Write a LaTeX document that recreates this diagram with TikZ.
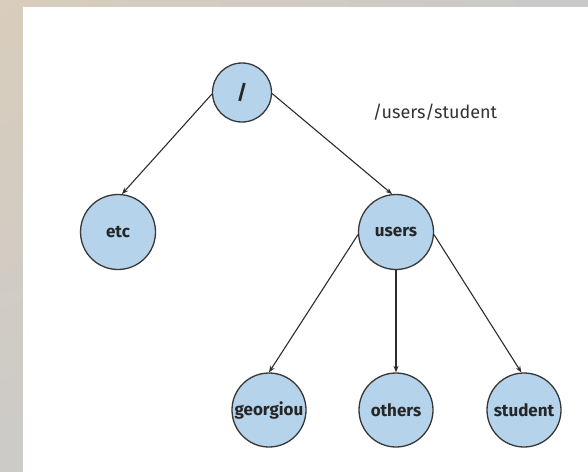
\documentclass[tikz,border=0pt]{standalone}
\usepackage{fontspec}
\setmainfont{Fira Sans}
\usetikzlibrary{arrows.meta,shadings}
\definecolor{frameA}{RGB}{217,205,188}
\definecolor{frameB}{RGB}{201,201,201}
\definecolor{frameC}{RGB}{204,203,200}
\definecolor{dirfill}{RGB}{181,211,234}
\definecolor{dirline}{RGB}{55,55,55}
\definecolor{linkline}{RGB}{45,45,45}
\tikzset{
  dir/.style={circle, draw=dirline, fill=dirfill, line width=1.3pt,
    inner sep=0pt, minimum size=74pt, font=\fontsize{17}{19}\selectfont\bfseries,
    text=black!85},
  link/.style={draw=linkline, line width=1.1pt,
    -{Stealth[length=6.5pt,width=5pt]}},
  pathlabel/.style={font=\fontsize{18}{20}\selectfont, text=black!80}
}
\begin{document}
\begin{tikzpicture}[x=1pt,y=-1pt]
  \useasboundingbox (0,0) rectangle (588,471);
  % page frame
  \shade[upper left=frameA, upper right=frameB, lower left=frameC, lower right=frameB]
    (0,0) rectangle (588,471);
  \fill[white] (23,7) rectangle (592,475);

  % directory tree
  \node[dir, minimum size=59pt, font=\fontsize{20}{22}\selectfont\bfseries] (root) at (242,92.5) {/};
  \node[dir, minimum size=75pt] (etc) at (118,232) {etc};
  \node[dir, minimum size=75pt] (users) at (396,232) {users};
  \node[dir] (georgiou) at (269,410) {georgiou};
  \node[dir] (others) at (396,410) {others};
  \node[dir] (student) at (524,410) {student};

  \node[pathlabel] (path) at (435,112) {/users/student};

  \draw[link] (root.183) -- (etc.84);
  \draw[link] (root.-2) -- (users.96);
  \draw[link] (users.184) -- (georgiou.90);
  \draw[link] (users.south) -- (others.north);
  \draw[link] (users.-4) -- (student.94);
\end{tikzpicture}
\end{document}
